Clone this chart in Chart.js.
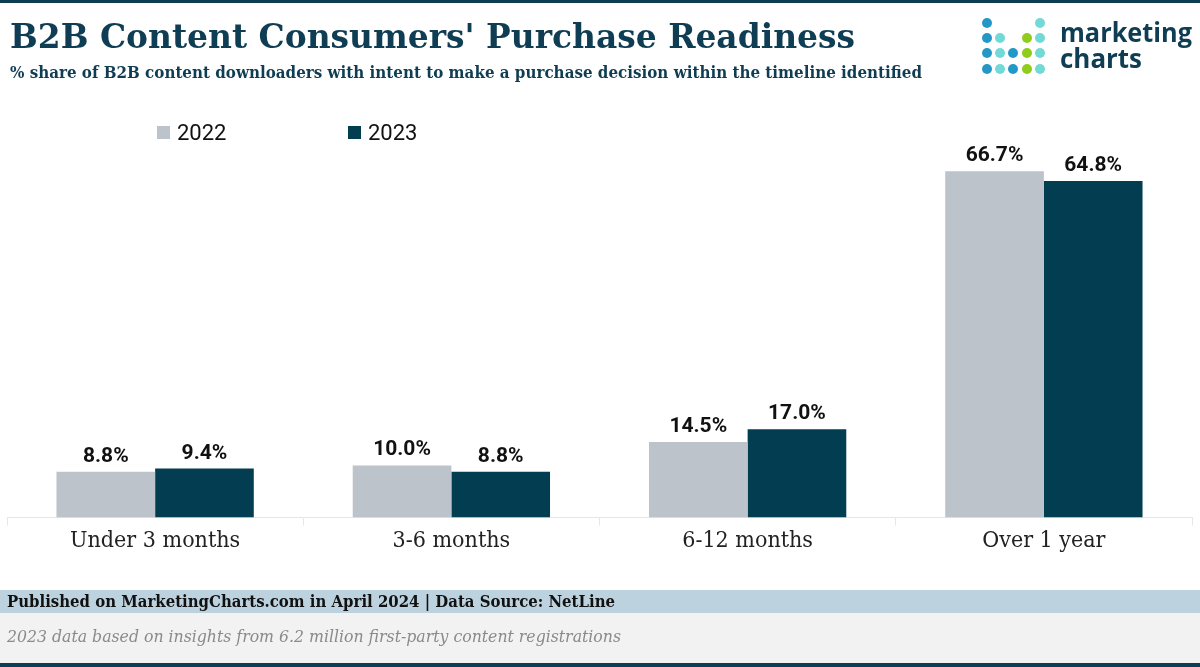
<!DOCTYPE html>
<html>
<head>
<meta charset="utf-8">
<script src="https://cdn.jsdelivr.net/npm/chart.js@4/dist/chart.umd.min.js"></script>
<style>
  html, body { margin:0; padding:0; background:#fff; }
  body { width:1200px; height:667px; position:relative; overflow:hidden; font-family:"DejaVu Serif", serif; }
  #topline { position:absolute; left:0; top:0; width:1200px; height:3px; background:#0f3d53; }
  #chartwrap { position:absolute; left:0; top:0; width:1200px; height:667px; }
  .fit { position:absolute; white-space:nowrap; transform-origin:0 0; }
  #title { left:10px; top:16px; font:bold 34px "DejaVu Serif Condensed","DejaVu Serif",serif; color:#0f3d53; }
  #subtitle { left:10px; top:63px; font:bold 16px "DejaVu Serif Condensed","DejaVu Serif",serif; color:#0f3d53; }
  .leg { position:absolute; top:120px; font:22px Roboto, sans-serif; color:#111; display:flex; align-items:center; }
  .leg i { display:inline-block; width:13px; height:13px; margin-right:7px; }
  #logo { position:absolute; left:0; top:0; }
  .dot { position:absolute; width:10px; height:10px; border-radius:50%; }
  .logotext { position:absolute; left:1060px; font:700 26px "Open Sans", sans-serif; color:#0f3d53; line-height:26px; }
  #band1 { position:absolute; left:0; top:590px; width:1200px; height:23px; background:#bcd2de; }
  #band2 { position:absolute; left:0; top:613px; width:1200px; height:50px; background:#f2f2f2; }
  #botline { position:absolute; left:0; top:663px; width:1200px; height:4px; background:#0f3d53; }
  #source { left:7px; top:591px; font:bold 17px "DejaVu Serif Condensed","DejaVu Serif",serif; color:#111; }
  #note { left:7px; top:626px; font:italic 17px "DejaVu Serif Condensed","DejaVu Serif",serif; color:#8a8a8a; }
</style>
</head>
<body>
<div id="topline"></div>
<div id="band1"></div>
<div id="band2"></div>
<div id="botline"></div>
<div id="chartwrap"><canvas id="c" width="1200" height="667"></canvas></div>
<div id="title" class="fit" data-w="845">B2B Content Consumers' Purchase Readiness</div>
<div id="subtitle" class="fit" data-w="912">% share of B2B content downloaders with intent to make a purchase decision within the timeline identified</div>
<div class="leg" style="left:157px"><i style="background:#bcc3ca"></i><span id="leg0"></span></div>
<div class="leg" style="left:348px"><i style="background:#023d51"></i><span id="leg1"></span></div>
<div id="logo"></div>
<div class="logotext fit" data-w="132" style="top:19px">marketing</div>
<div class="logotext fit" data-w="82" style="top:45px">charts</div>
<div id="source" class="fit" data-w="608">Published on MarketingCharts.com in April 2024 | Data Source: NetLine</div>
<div id="note" class="fit" data-w="614">2023 data based on insights from 6.2 million first-party content registrations</div>
<script>
const categories = ["Under 3 months", "3-6 months", "6-12 months", "Over 1 year"];
const seriesNames = ["2022", "2023"];
const values2022 = [8.8, 10.0, 14.5, 66.7];
const values2023 = [9.4, 8.8, 17.0, 64.8];
const seriesColors = ["#bcc3ca", "#023d51"];

document.getElementById('leg0').textContent = seriesNames[0];
document.getElementById('leg1').textContent = seriesNames[1];

// logo dots
const dotCols = [987, 1000, 1013, 1027, 1040];
const dotRows = [23, 38, 53, 69];
const dotMap = [
  ["b", "", "", "", "t"],
  ["b", "t", "", "g", "t"],
  ["b", "t", "b", "g", "t"],
  ["b", "t", "b", "g", "t"]
];
const dotColor = { b: "#2398c6", t: "#72dad6", g: "#8fcc1c" };
const logo = document.getElementById('logo');
dotMap.forEach((row, r) => row.forEach((k, c) => {
  if (!k) return;
  const d = document.createElement('div');
  d.className = 'dot';
  d.style.left = (dotCols[c] - 5) + 'px';
  d.style.top = (dotRows[r] - 5) + 'px';
  d.style.background = dotColor[k];
  logo.appendChild(d);
}));

// fit texts horizontally to reference widths
document.querySelectorAll('.fit').forEach(el => {
  const target = +el.dataset.w;
  const w = el.getBoundingClientRect().width;
  if (w > 0) el.style.transform = 'scaleX(' + (target / w) + ')';
});

const valueLabels = {
  id: 'valueLabels',
  afterDatasetsDraw(chart) {
    const ctx = chart.ctx;
    ctx.save();
    ctx.font = 'bold 21px Roboto, sans-serif';
    ctx.fillStyle = '#111';
    ctx.textAlign = 'center';
    ctx.textBaseline = 'alphabetic';
    chart.data.datasets.forEach((ds, i) => {
      chart.getDatasetMeta(i).data.forEach((el, j) => {
        ctx.fillText(ds.data[j].toFixed(1) + '%', el.x, el.y - 10);
      });
    });
    ctx.restore();
  }
};

new Chart(document.getElementById('c'), {
  type: 'bar',
  data: {
    labels: categories,
    datasets: [
      { label: seriesNames[0], data: values2022, backgroundColor: seriesColors[0] },
      { label: seriesNames[1], data: values2023, backgroundColor: seriesColors[1] }
    ]
  },
  options: {
    responsive: false,
    devicePixelRatio: 1,
    animation: false,
    categoryPercentage: 0.666,
    barPercentage: 1.0,
    layout: { padding: { left: 7, right: 8, top: 154, bottom: 110 } },
    plugins: { legend: { display: false }, tooltip: { enabled: false } },
    scales: {
      y: { display: false, min: 0, max: 70 },
      x: {
        offset: true,
        grid: { display: true, drawOnChartArea: false, offset: true, tickLength: 8, color: '#e6e6e6' },
        border: { color: '#e6e6e6', width: 1 },
        ticks: { color: '#222', padding: 2, font: { family: '"DejaVu Serif Condensed", "DejaVu Serif", serif', size: 23 } }
      }
    }
  },
  plugins: [valueLabels]
});
</script>
</body>
</html>
